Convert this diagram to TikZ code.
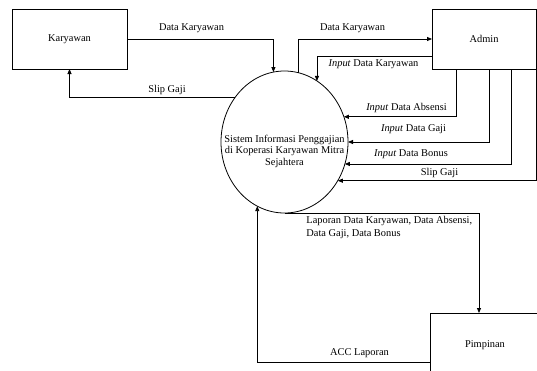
\documentclass[tikz,border=0pt]{standalone}
\usepackage{fontspec}
\setmainfont{Liberation Serif}
\usetikzlibrary{arrows.meta,shapes.geometric}
\begin{document}
\begin{tikzpicture}[x=1pt,y=-1pt,
  font=\fontsize{10.4}{12}\selectfont,
  line width=0.8pt,
  entity/.style={draw, rectangle, inner sep=0pt, outer sep=0pt},
  flow/.style={-{Triangle[length=5pt,width=4pt]}},
  lbl/.style={inner sep=0pt}]
\useasboundingbox (0,0) rectangle (537,370);
\clip (0,0) rectangle (537,370);
\fill[white] (0,0) rectangle (537,370);

\node[entity, minimum width=115pt, minimum height=60pt] (kar) at (69.5,39) {Karyawan};
\node[entity, minimum width=104pt, minimum height=60pt] (adm) at (484,39) {Admin};
\node[entity, minimum width=110pt, minimum height=64pt] (pim) at (485,345) {Pimpinan};
\node[draw, ellipse, minimum width=127pt, minimum height=142pt, inner sep=0pt, outer sep=0pt] (sys) at (284.5,142) {};
\node[lbl, align=center, font=\fontsize{10.4}{11.5}\selectfont] (systext) at (284.5,151) {Sistem Informasi Penggajian\\di Koperasi Karyawan Mitra\\Sejahtera};

% Karyawan <-> system
\draw[flow] (kar.east) -| (sys.99.4);
\draw[flow] (sys.138.5) -| (kar.south);
\node[lbl] (l1) at (191.5,28) {Data Karyawan};
\node[lbl] (l2) at (167,90) {Slip Gaji};

% system <-> Admin
\draw[flow] (sys.79) |- (adm.west);
\draw[flow] ([yshift=-17pt]adm.west) -| (sys.62);
\draw[flow] ([xshift=-28pt]adm.south) |- (sys.23.7);
\draw[flow] ([xshift=5pt]adm.south) |- (sys.-0.9);
\draw[flow] ([xshift=27pt]adm.south) |- (sys.-20);
\draw[flow] (adm.south east) |- (sys.-36.3);
\node[lbl] (l3) at (352.5,28) {Data Karyawan};
\node[lbl] (l4) at (373.5,64) {\textit{Input} Data Karyawan};
\node[lbl] (l5) at (406.5,108) {\textit{Input} Data Absensi};
\node[lbl] (l6) at (413.5,129) {\textit{Input} Data Gaji};
\node[lbl] (l7) at (411,154) {\textit{Input} Data Bonus};
\node[lbl] (l8) at (439.5,173) {Slip Gaji};

% system <-> Pimpinan
\draw[flow] (sys.south) -| ([xshift=-6pt]pim.north);
\draw[flow] ([yshift=-17pt]pim.west) -| (sys.-113.25);
\node[lbl, anchor=north west, align=left, font=\fontsize{10.4}{12.6}\selectfont] (l9) at (306,216) {Laporan Data Karyawan, Data Absensi,\\Data Gaji, Data Bonus};
\node[lbl] (l10) at (359.5,353) {ACC Laporan};
\end{tikzpicture}
\end{document}
